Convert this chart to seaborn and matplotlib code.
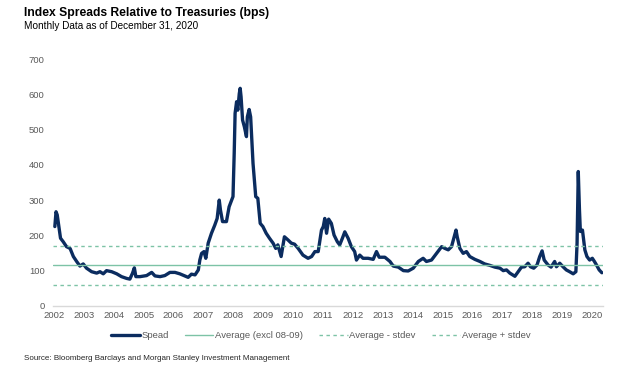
import matplotlib
matplotlib.use("Agg")
import matplotlib.pyplot as plt
import seaborn as sns
import pandas as pd
from matplotlib.lines import Line2D

# position on the (evenly spaced) year axis
date_pos = [
    2002.03, 2002.07, 2002.11, 2002.18, 2002.22, 2002.31, 2002.42, 2002.54, 2002.65, 2002.76,
    2002.87, 2002.98, 2003.09, 2003.26, 2003.43, 2003.54, 2003.65, 2003.76, 2003.93, 2004.10,
    2004.26, 2004.43, 2004.54, 2004.63, 2004.69, 2004.74, 2004.88, 2005.10, 2005.27, 2005.38,
    2005.55, 2005.71, 2005.88, 2006.05, 2006.21, 2006.38, 2006.49, 2006.60, 2006.72, 2006.83,
    2006.88, 2006.94, 2007.02, 2007.08, 2007.16, 2007.27, 2007.38, 2007.46, 2007.53, 2007.57,
    2007.64, 2007.77, 2007.86, 2007.99, 2008.03, 2008.06, 2008.11, 2008.15, 2008.20, 2008.23,
    2008.26, 2008.31, 2008.37, 2008.44, 2008.47, 2008.53, 2008.58, 2008.66, 2008.75, 2008.82,
    2008.90, 2008.99, 2009.10, 2009.21, 2009.33, 2009.42, 2009.49, 2009.60, 2009.71, 2009.83,
    2009.94, 2010.05, 2010.17, 2010.33, 2010.50, 2010.62, 2010.73, 2010.84, 2010.95, 2011.01,
    2011.06, 2011.12, 2011.19, 2011.28, 2011.37, 2011.48, 2011.56, 2011.65, 2011.73, 2011.84,
    2011.95, 2012.06, 2012.12, 2012.23, 2012.34, 2012.51, 2012.68, 2012.79, 2012.88, 2013.07,
    2013.24, 2013.35, 2013.52, 2013.69, 2013.85, 2014.02, 2014.19, 2014.35, 2014.46, 2014.63,
    2014.80, 2014.97, 2015.08, 2015.19, 2015.30, 2015.39, 2015.45, 2015.49, 2015.58, 2015.69,
    2015.80, 2015.91, 2016.08, 2016.25, 2016.41, 2016.58, 2016.75, 2016.92, 2017.03, 2017.14,
    2017.25, 2017.42, 2017.53, 2017.64, 2017.75, 2017.86, 2017.94, 2018.05, 2018.16, 2018.25,
    2018.33, 2018.40, 2018.53, 2018.63, 2018.75, 2018.81, 2018.92, 2019.03, 2019.14, 2019.25,
    2019.37, 2019.46, 2019.50, 2019.54, 2019.58, 2019.61, 2019.68, 2019.76, 2019.83, 2019.92,
    2020.01, 2020.08, 2020.15, 2020.24, 2020.33,
]
spread = [
    225, 267, 258, 215, 192, 182, 168, 163, 140, 126,
    113, 119, 107, 97, 93, 97, 91, 100, 97, 91,
    83, 78, 76, 93, 108, 83, 83, 86, 95, 85,
    83, 86, 95, 95, 91, 85, 81, 90, 88, 102,
    130, 149, 154, 135, 178, 206, 229, 248, 300, 272,
    239, 239, 281, 310, 432, 546, 579, 555, 602, 617,
    593, 527, 508, 480, 536, 557, 536, 404, 310, 305,
    234, 225, 206, 192, 178, 163, 173, 140, 196, 187,
    178, 175, 163, 144, 135, 140, 154, 154, 215, 225,
    248, 206, 246, 234, 201, 182, 173, 192, 210, 192,
    168, 154, 130, 144, 135, 135, 132, 154, 138, 138,
    126, 113, 110, 100, 99, 107, 126, 135, 126, 130,
    149, 168, 163, 159, 168, 196, 215, 196, 163, 149,
    154, 140, 132, 126, 119, 115, 110, 107, 100, 102,
    93, 84, 97, 110, 111, 121, 111, 107, 116, 140,
    156, 130, 116, 110, 126, 111, 121, 111, 102, 97,
    91, 97, 178, 381, 272, 211, 215, 159, 140, 130,
    135, 126, 116, 102, 94,
]
year_labels = list(range(2002, 2021))
avg_excl = 115
avg_minus_sd = 60
avg_plus_sd = 171

navy = "#0B2C5F"
green = "#7DC3A6"
grey_txt = "#595959"

sns.set_theme(style="white")
plt.rcParams["font.family"] = ["Liberation Sans", "DejaVu Sans"]

df = pd.DataFrame({"pos": date_pos, "spread": spread})

fig = plt.figure(figsize=(6.24, 3.69), dpi=100)
ax = fig.add_axes([0.085, 0.171, 0.881, 0.669])

sns.lineplot(data=df, x="pos", y="spread", ax=ax, color=navy, linewidth=2.4, sort=False)
ax.axhline(avg_excl, color=green, linewidth=1.0)
ax.axhline(avg_minus_sd, color=green, linewidth=1.0, linestyle=(0, (2.5, 2.5)))
ax.axhline(avg_plus_sd, color=green, linewidth=1.0, linestyle=(0, (2.5, 2.5)))

ax.set_xlim(2001.97, 2020.36)
ax.set_ylim(0, 700)
ax.set_xticks(year_labels)
ax.set_xticklabels([str(y) for y in year_labels])
ax.set_yticks(range(0, 701, 100))
ax.tick_params(axis="both", length=0, labelsize=6.8, colors=grey_txt)
ax.tick_params(axis="x", pad=3.5)
ax.tick_params(axis="y", pad=6)
ax.set_xlabel("")
ax.set_ylabel("")
for side in ["top", "right", "left"]:
    ax.spines[side].set_visible(False)
ax.spines["bottom"].set_color("#D9D9D9")
ax.spines["bottom"].set_linewidth(1.0)

handles = [
    Line2D([], [], color=navy, linewidth=2.4),
    Line2D([], [], color=green, linewidth=1.0),
    Line2D([], [], color=green, linewidth=1.0, linestyle=(0, (2.5, 2.5))),
    Line2D([], [], color=green, linewidth=1.0, linestyle=(0, (2.5, 2.5))),
]
labels = ["Spead", "Average (excl 08-09)", "Average - stdev", "Average + stdev"]
fig.legend(handles, labels, loc="center", bbox_to_anchor=(321 / 624, 1 - 336 / 369),
           ncol=4, frameon=False, fontsize=6.8, handlelength=3.0, handletextpad=0.2,
           columnspacing=1.7, labelcolor=grey_txt)

fig.text(24 / 624, 1 - 13 / 369, "Index Spreads Relative to Treasuries (bps)",
         fontsize=8.7, fontweight="bold", color="black", va="center", ha="left")
fig.text(24 / 624, 1 - 26 / 369, "Monthly Data as of December 31, 2020",
         fontsize=7.2, color="black", va="center", ha="left")
fig.text(24 / 624, 1 - 359 / 369,
         "Source: Bloomberg Barclays and Morgan Stanley Investment Management",
         fontsize=5.8, color="#262626", va="center", ha="left")

fig.savefig("out.png", dpi=100)
